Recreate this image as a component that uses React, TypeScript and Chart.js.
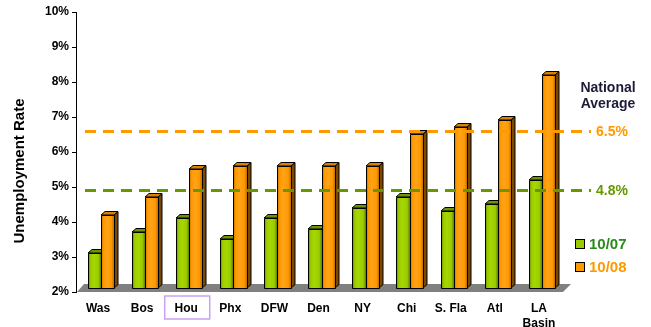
import React, { useEffect, useRef } from "react";
import { Chart, registerables } from "chart.js";

Chart.register(...registerables);

const categories: (string | string[])[] = ["Was", "Bos", "Hou", "Phx", "DFW", "Den", "NY", "Chi", "S. Fla", "Atl", ["LA", "Basin"]];
const rate0710 = [3.0, 3.6, 4.0, 3.4, 4.0, 3.7, 4.3, 4.6, 4.2, 4.4, 5.1];
const rate0810 = [4.1, 4.6, 5.4, 5.5, 5.5, 5.5, 5.5, 6.4, 6.6, 6.8, 8.1];
const nationalAvg0810 = 6.5;
const nationalAvg0710 = 4.8;
const yTicks = [2, 3, 4, 5, 6, 7, 8, 9, 10];
const yMin = 2;
const yMax = 10;
const highlighted = "Hou";

const FONT = "Arial, 'Liberation Sans', sans-serif";
const DX = 3; // bars sit a little behind the front axis plane
const DY = -4;
const DEPTH = 4; // bar extrusion

type Palette = { light: string; mid: string; dark: string; top: string; side: string };
const GREEN: Palette = { light: "#a8d600", mid: "#99cc00", dark: "#5f8000", top: "#6f9400", side: "#4a6300" };
const ORANGE: Palette = { light: "#ffa31a", mid: "#ff9900", dark: "#c06f00", top: "#d98200", side: "#7a4800" };

const bars3d = {
  id: "bars3d",
  beforeDatasetsDraw(chart: any) {
    const { ctx, chartArea } = chart;
    // grey floor
    ctx.save();
    ctx.fillStyle = "#808080";
    ctx.beginPath();
    ctx.moveTo(chartArea.left + 1, chartArea.bottom);
    ctx.lineTo(chartArea.right + 2, chartArea.bottom);
    ctx.lineTo(chartArea.right + 10, chartArea.bottom - 8);
    ctx.lineTo(chartArea.left + 8, chartArea.bottom - 8);
    ctx.closePath();
    ctx.fill();
    ctx.restore();
  },
  afterDatasetsDraw(chart: any) {
    const { ctx } = chart;
    const palettes = [GREEN, ORANGE];
    chart.data.datasets.forEach((_ds: any, di: number) => {
      const meta = chart.getDatasetMeta(di);
      const pal = palettes[di];
      meta.data.forEach((el: any) => {
        const { x, y, base, width } = el.getProps(["x", "y", "base", "width"], true);
        const l = Math.round(x - width / 2 + DX);
        const r = Math.round(x + width / 2 + DX);
        const t = Math.round(y + DY);
        const b = Math.round(base + DY);
        ctx.save();
        ctx.lineWidth = 1;
        ctx.strokeStyle = "#000";
        ctx.lineJoin = "round";
        // side face
        ctx.fillStyle = pal.side;
        ctx.beginPath();
        ctx.moveTo(r, t);
        ctx.lineTo(r + DEPTH, t - DEPTH + 0.5);
        ctx.lineTo(r + DEPTH, b - DEPTH + 0.5);
        ctx.lineTo(r, b);
        ctx.closePath();
        ctx.fill();
        ctx.stroke();
        // top face
        ctx.fillStyle = pal.top;
        ctx.beginPath();
        ctx.moveTo(l, t);
        ctx.lineTo(l + DEPTH, t - DEPTH + 0.5);
        ctx.lineTo(r + DEPTH, t - DEPTH + 0.5);
        ctx.lineTo(r, t);
        ctx.closePath();
        ctx.fill();
        ctx.stroke();
        // front face
        const g = ctx.createLinearGradient(l, 0, r, 0);
        g.addColorStop(0, pal.dark);
        g.addColorStop(0.2, pal.mid);
        g.addColorStop(0.45, pal.light);
        g.addColorStop(0.8, pal.mid);
        g.addColorStop(1, pal.dark);
        ctx.fillStyle = g;
        ctx.fillRect(l, t, r - l, b - t);
        ctx.strokeRect(l + 0.5, t + 0.5, r - l, b - t);
        ctx.restore();
      });
    });

    // national average reference lines
    const ys = chart.scales.y;
    const lines = [
      { v: nationalAvg0810, color: "#ff9900", label: "6.5%" },
      { v: nationalAvg0710, color: "#669900", label: "4.8%" },
    ];
    lines.forEach((ln) => {
      const py = Math.round(ys.getPixelForValue(ln.v) + DY) + 0.5;
      ctx.save();
      ctx.strokeStyle = ln.color;
      ctx.lineWidth = 3;
      ctx.setLineDash([11, 7]);
      ctx.beginPath();
      ctx.moveTo(chart.chartArea.left + 9, py);
      ctx.lineTo(591, py);
      ctx.stroke();
      ctx.setLineDash([]);
      ctx.fillStyle = ln.color;
      ctx.font = `bold 14px ${FONT}`;
      ctx.textBaseline = "middle";
      ctx.textAlign = "left";
      ctx.fillText(ln.label, 596, py + 1);
      ctx.restore();
    });
  },
  afterDraw(chart: any) {
    const { ctx } = chart;
    ctx.save();
    // axis title
    ctx.save();
    ctx.translate(20, 171);
    ctx.rotate(-Math.PI / 2);
    ctx.font = `bold 15px ${FONT}`;
    ctx.fillStyle = "#000";
    ctx.textAlign = "center";
    ctx.textBaseline = "middle";
    ctx.fillText("Unemployment Rate", 0, 0);
    ctx.restore();

    // heading for the reference lines
    ctx.font = `bold 14px ${FONT}`;
    ctx.fillStyle = "#1c1c38";
    ctx.textAlign = "center";
    ctx.textBaseline = "middle";
    ctx.fillText("National", 608, 88);
    ctx.fillText("Average", 608, 104);

    // legend
    const legend = [
      { label: "10/07", fill: "#99cc00", text: "#2a8a1e", y: 244 },
      { label: "10/08", fill: "#ff9900", text: "#ff9900", y: 267 },
    ];
    legend.forEach((it) => {
      ctx.fillStyle = it.fill;
      ctx.fillRect(575, it.y - 5, 10, 10);
      ctx.strokeStyle = "#000";
      ctx.lineWidth = 1;
      ctx.strokeRect(575.5, it.y - 4.5, 9, 9);
      ctx.fillStyle = it.text;
      ctx.font = `bold 15px ${FONT}`;
      ctx.textAlign = "left";
      ctx.textBaseline = "middle";
      ctx.fillText(it.label, 589, it.y + 1);
    });

    // highlight box around one city
    const xs = chart.scales.x;
    const idx = categories.indexOf(highlighted);
    if (idx >= 0) {
      const cx = xs.getPixelForValue(idx) + 1;
      ctx.strokeStyle = "#c9a0f5";
      ctx.lineWidth = 1.5;
      ctx.strokeRect(cx - 22.5, 296, 45, 23);
    }
    ctx.restore();
  },
};

export default function App() {
  const ref = useRef<HTMLCanvasElement>(null);
  useEffect(() => {
    if (!ref.current) return;
    const chart = new Chart(ref.current, {
      type: "bar",
      data: {
        labels: categories as any,
        datasets: [
          { label: "10/07", data: rate0710, base: yMin, backgroundColor: "rgba(0,0,0,0)", borderWidth: 0 },
          { label: "10/08", data: rate0810, base: yMin, backgroundColor: "rgba(0,0,0,0)", borderWidth: 0 },
        ],
      },
      options: {
        responsive: false,
        animation: false,
        events: [],
        layout: { padding: { left: 0, top: 12, right: 90, bottom: 0 } },
        datasets: { bar: { categoryPercentage: 0.6, barPercentage: 1 } },
        plugins: { legend: { display: false }, tooltip: { enabled: false }, title: { display: false } },
        scales: {
          x: {
            grid: { display: false, drawTicks: false },
            border: { display: false },
            ticks: {
              color: "#000",
              font: { family: FONT, size: 12, weight: "bold", lineHeight: 1.25 },
              padding: 9,
              maxRotation: 0,
              autoSkip: false,
            },
            afterFit: (s: any) => {
              s.height = 35;
            },
          },
          y: {
            min: yMin,
            max: yMax,
            beginAtZero: false,
            afterBuildTicks: (s: any) => {
              s.ticks = yTicks.map((v) => ({ value: v }));
            },
            grid: { drawOnChartArea: false, drawTicks: true, tickLength: 4, color: "#000" },
            border: { display: true, color: "#000", width: 1 },
            ticks: {
              color: "#000",
              font: { family: FONT, size: 12, weight: "bold" },
              padding: 3,
              callback: (v: any) => `${v}%`,
            },
            afterFit: (s: any) => {
              s.width = 76;
            },
          },
        },
      },
      plugins: [bars3d],
    });
    return () => chart.destroy();
  }, []);
  return (
    <div style={{ position: "absolute", left: 0, top: 0, width: 651, height: 327, background: "#fff" }}>
      <canvas ref={ref} width={651} height={327} style={{ display: "block" }} />
    </div>
  );
}
